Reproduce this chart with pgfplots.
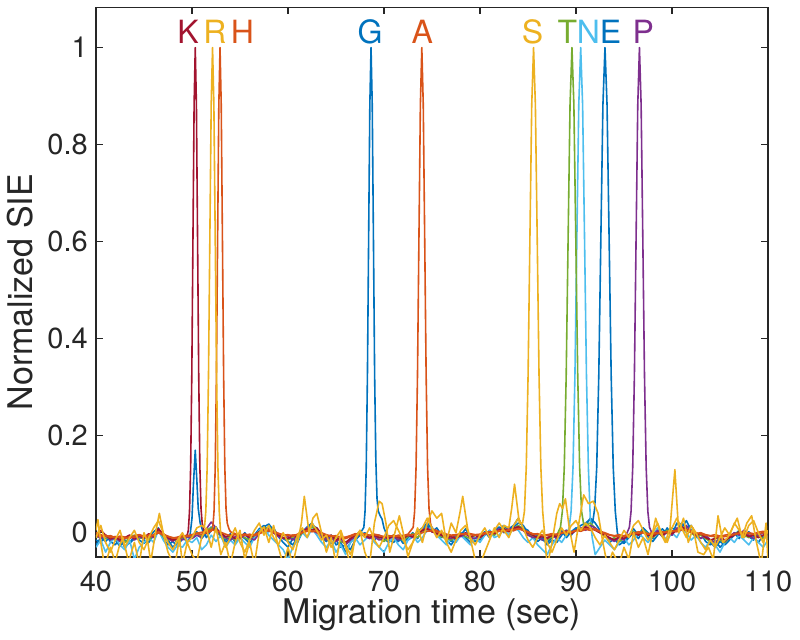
\documentclass[border=0pt]{standalone}
\usepackage{fontspec}
\setmainfont{TeX Gyre Heros}
\usepackage{pgfplots}
\pgfplotsset{compat=1.18}
\definecolor{mblue}{rgb}{0,0.447,0.741}
\definecolor{morange}{rgb}{0.85,0.325,0.098}
\definecolor{myellow}{rgb}{0.929,0.694,0.125}
\definecolor{mpurple}{rgb}{0.494,0.184,0.556}
\definecolor{mgreen}{rgb}{0.466,0.674,0.188}
\definecolor{mcyan}{rgb}{0.301,0.745,0.933}
\definecolor{mdred}{rgb}{0.635,0.078,0.184}
\definecolor{tgray}{rgb}{0.15,0.15,0.15}
\begin{document}
\begin{tikzpicture}
\useasboundingbox (-48pt,-41pt) rectangle (352pt,278.5pt);
\begin{axis}[
  at={(0,0)}, anchor=south west,
  scale only axis, width=336pt, height=274.85pt,
  xmin=40, xmax=110, ymin=-0.05, ymax=1.083,
  xtick={40,50,60,70,80,90,100,110},
  xticklabels={40,50,60,70,80,90,100,110},
  ytick={0,0.2,0.4,0.6,0.8,1},
  yticklabels={0,0.2,0.4,0.6,0.8,1},
  tick align=inside, major tick length=3.4pt,
  axis line style={draw=tgray, line width=0.7pt},
  every tick/.style={draw=tgray, line width=0.6pt},
  /pgf/number format/assume math mode=true,
  ticklabel style={font=\fontsize{14.5}{17}\selectfont, text=tgray},
  xticklabel style={anchor=base, yshift=-17pt},
  yticklabel style={xshift=-0.6pt},
  every axis plot/.append style={line width=0.8pt, line join=round},
  clip=true,
]
% G (blue)
\addplot[mblue] coordinates {
(40,-0.015)(40.5,-0.02)(41,-0.005)(41.5,-0.018)(42,-0.025)(42.5,-0.012)(43,-0.03)(43.5,-0.02)(44,-0.008)(44.5,-0.015)
(45,-0.022)(45.5,-0.01)(46,0.002)(46.5,0.01)(47,-0.012)(47.5,-0.025)(48,-0.018)(48.5,-0.028)(49,-0.012)(49.5,-0.01)
(49.8,-0.005)(50,0.03)(50.15,0.1)(50.34,0.17)(50.5,0.11)(50.65,0.05)(50.85,0.02)(51.1,0.005)
(51.5,-0.01)(52,0.005)(52.5,0.012)(53,-0.005)(53.5,-0.015)(54,-0.002)(54.5,-0.02)(55,-0.012)(55.5,0)(56,-0.015)
(56.5,-0.005)(57,0.008)(57.5,0.015)(58,0.002)(58.5,0.01)(59,-0.008)(59.5,-0.02)(60,-0.03)(60.5,-0.012)(61,-0.02)
(61.5,0.002)(62,0.012)(62.5,0.02)(63,0.005)(63.5,-0.01)(64,-0.018)(64.5,-0.005)(65,-0.025)(65.5,-0.02)(66,-0.04)
(66.5,-0.02)(67,-0.01)(67.5,-0.002)
(67.9,0.011)(68.025,0.044)(68.15,0.135)(68.275,0.325)(68.4,0.607)(68.525,0.882)(68.65,1)(68.775,0.882)(68.9,0.607)
(69.025,0.325)(69.15,0.15)(69.275,0.07)(69.4,0.045)(69.6,0.035)(69.8,0.028)(70,0.01)
(70.5,-0.015)(71,-0.02)(71.5,-0.008)(72,-0.022)(72.5,-0.01)(73,0)(73.5,-0.012)(74,0.005)(74.5,0.015)(75,0.002)
(75.5,0.01)(76,-0.005)(76.5,-0.015)(77,-0.025)(77.5,-0.01)(78,-0.005)(78.5,0.008)(79,-0.01)(79.5,-0.018)(80,-0.008)
(80.5,0.002)(81,-0.01)(81.5,0.005)(82,0.012)(82.5,0)(83,0.008)(83.5,0.015)(84,0.03)(84.5,0.01)(85,0.005)
(85.5,-0.01)(86,-0.005)(86.5,-0.015)(87,-0.02)(87.5,-0.01)(88,-0.005)(88.5,0.005)(89,-0.01)(89.5,0.002)(90,0.01)
(90.5,0.005)(91,0.015)(91.5,0.03)(92,0.02)(92.5,0.005)(93,-0.005)(93.5,-0.02)(94,-0.012)(94.5,-0.025)(95,-0.018)
(95.5,-0.005)(96,0.008)(96.5,-0.005)(97,0.01)(97.5,0)(98,-0.012)(98.5,0.005)(99,-0.008)(99.5,0.01)(100,-0.005)
(100.5,0.02)(101,0.01)(101.5,0.025)(102,0.005)(102.5,-0.01)(103,0)(103.5,-0.018)(104,-0.025)(104.5,-0.015)(105,-0.03)
(105.5,-0.02)(106,-0.01)(106.5,0)(107,-0.012)(107.5,0.005)(108,-0.008)(108.5,-0.015)(109,0)(109.5,-0.01)(110,-0.005)
};
% E (blue)
\addplot[mblue] coordinates {
(40,-0.025)(40.5,-0.01)(41,-0.018)(41.5,-0.008)(42,-0.015)(42.5,-0.028)(43,-0.015)(43.5,-0.022)(44,-0.012)(44.5,-0.005)
(45,-0.015)(45.5,-0.02)(46,-0.005)(46.5,0.005)(47,-0.01)(47.5,-0.015)(48,-0.03)(48.5,-0.02)(49,-0.01)(49.5,-0.018)
(50,-0.005)(50.5,0.002)(51,-0.012)(51.5,0)(52,0.012)(52.5,0.005)(53,-0.008)(53.5,-0.02)(54,-0.01)(54.5,-0.015)
(55,-0.005)(55.5,-0.012)(56,-0.022)(56.5,-0.008)(57,0.002)(57.5,0.012)(58,0.018)(58.5,0.005)(59,-0.005)(59.5,-0.012)
(60,-0.018)(60.5,-0.025)(61,-0.01)(61.5,0.005)(62,0.008)(62.5,0.015)(63,0.01)(63.5,-0.005)(64,-0.012)(64.5,-0.022)
(65,-0.015)(65.5,-0.03)(66,-0.025)(66.5,-0.035)(67,-0.015)(67.5,-0.005)(68,0)(68.5,-0.008)(69,-0.015)(69.5,-0.005)
(70,-0.012)(70.5,-0.02)(71,-0.01)(71.5,-0.018)(72,-0.005)(72.5,-0.015)(73,-0.008)(73.5,0.002)(74,0.01)(74.5,0.02)
(75,0.008)(75.5,0)(76,-0.01)(76.5,-0.005)(77,-0.018)(77.5,-0.012)(78,0)(78.5,-0.01)(79,-0.02)(79.5,-0.01)
(80,-0.015)(80.5,-0.005)(81,0.005)(81.5,-0.005)(82,0.008)(82.5,0.015)(83,0.005)(83.5,0.012)(84,0.02)(84.5,0.015)
(85,0)(85.5,-0.008)(86,-0.018)(86.5,-0.01)(87,-0.025)(87.5,-0.015)(88,-0.02)(88.5,-0.005)(89,0.005)(89.5,-0.005)
(90,0.008)(90.5,0.015)(91,0.02)(91.5,0.028)
(91.73,0.02)(91.945,0.05)(92.16,0.135)(92.375,0.325)(92.59,0.607)(92.805,0.882)(93.02,1)(93.235,0.882)(93.45,0.607)
(93.665,0.325)(93.88,0.135)(94.095,0.044)(94.31,0)
(94.5,-0.012)(95,-0.022)(95.5,-0.01)(96,0)(96.5,-0.012)(97,0.005)(97.5,-0.008)(98,-0.018)(98.5,-0.005)(99,0.008)
(99.5,-0.002)(100,0.01)(100.5,0.005)(101,0.02)(101.5,0.01)(102,0.015)(102.5,-0.005)(103,-0.012)(103.5,-0.005)(104,-0.02)
(104.5,-0.03)(105,-0.018)(105.5,-0.025)(106,-0.015)(106.5,-0.005)(107,0.005)(107.5,-0.01)(108,0.002)(108.5,-0.008)(109,-0.02)
(109.5,-0.005)(110,-0.012)
};
% N (light blue)
\addplot[mcyan] coordinates {
(40,-0.03)(40.5,-0.015)(41,-0.04)(41.5,-0.02)(42,-0.01)(42.5,-0.025)(43,-0.035)(43.5,-0.015)(44,-0.055)(44.5,-0.03)
(45,-0.02)(45.5,-0.01)(46,-0.02)(46.5,0.005)(47,-0.015)(47.5,-0.03)(48,-0.04)(48.5,-0.025)(49,-0.03)(49.5,-0.015)
(50,-0.02)(50.5,-0.01)(51,-0.035)(51.5,-0.025)(52,-0.005)(52.5,-0.018)(53,-0.005)(53.5,-0.03)(54,-0.015)(54.5,-0.025)
(55,-0.01)(55.5,-0.02)(56,-0.03)(56.5,-0.01)(57,0.005)(57.5,0.01)(58,-0.005)(58.5,-0.015)(59,-0.025)(59.5,-0.035)
(60,-0.055)(60.5,-0.03)(61,-0.015)(61.5,0)(62,-0.01)(62.5,0.008)(63,-0.005)(63.5,-0.02)(64,-0.03)(64.5,-0.015)
(65,-0.04)(65.5,-0.025)(66,-0.045)(66.5,-0.02)(67,-0.01)(67.5,-0.025)(68,-0.015)(68.5,-0.005)(69,-0.02)(69.5,-0.03)
(70,-0.04)(70.5,-0.02)(71,-0.01)(71.5,-0.025)(72,-0.035)(72.5,-0.015)(73,-0.005)(73.5,-0.02)(74,-0.01)(74.5,0.005)
(75,0.012)(75.5,-0.005)(76,-0.015)(76.5,-0.025)(77,-0.01)(77.5,-0.02)(78,-0.005)(78.5,-0.015)(79,-0.025)(79.5,-0.01)
(80,-0.02)(80.5,-0.005)(81,0.005)(81.5,-0.01)(82,-0.005)(82.5,0.008)(83,-0.005)(83.5,0.01)(84,0.005)(84.5,-0.01)
(85,-0.02)(85.5,-0.01)(86,-0.025)(86.5,-0.035)(87,-0.045)(87.5,-0.025)(88,-0.01)(88.5,-0.02)(89,-0.005)
(89.29,0.011)(89.49,0.044)(89.69,0.135)(89.89,0.325)(90.09,0.607)(90.29,0.882)(90.49,1)(90.69,0.882)(90.89,0.607)
(91.09,0.325)(91.29,0.135)(91.49,0.03)(91.69,-0.01)
(92,-0.045)(92.5,-0.03)(93,-0.015)(93.5,-0.025)(94,-0.035)(94.5,-0.02)(95,-0.01)(95.5,-0.025)(96,-0.015)(96.5,0)
(97,-0.01)(97.5,-0.02)(98,-0.005)(98.5,0.01)(99,-0.005)(99.5,-0.015)(100,0)(100.5,-0.01)(101,0.01)(101.5,0)
(102,-0.015)(102.5,-0.005)(103,-0.02)(103.5,-0.03)(104,-0.015)(104.5,-0.025)(105,-0.04)(105.5,-0.02)(106,-0.01)(106.5,-0.02)
(107,-0.005)(107.5,-0.015)(108,-0.025)(108.5,-0.01)(109,-0.02)(109.5,-0.03)(110,-0.015)
};
% T (green)
\addplot[mgreen] coordinates {
(40,-0.01)(40.5,-0.005)(41,-0.012)(41.5,-0.008)(42,-0.015)(42.5,-0.01)(43,-0.02)(43.5,-0.01)(44,-0.005)(44.5,-0.012)
(45,-0.008)(45.5,-0.015)(46,-0.005)(46.5,0.005)(47,-0.008)(47.5,-0.015)(48,-0.012)(48.5,-0.02)(49,-0.01)(49.5,-0.005)
(50,-0.01)(50.5,0)(51,-0.008)(51.5,0.005)(52,0.01)(52.5,0.002)(53,-0.005)(53.5,-0.012)(54,-0.008)(54.5,-0.015)
(55,-0.005)(55.5,-0.01)(56,-0.015)(56.5,-0.005)(57,0.002)(57.5,0.008)(58,0.012)(58.5,0.002)(59,-0.005)(59.5,-0.01)
(60,-0.015)(60.5,-0.008)(61,-0.012)(61.5,0)(62,0.005)(62.5,0.012)(63,0.005)(63.5,-0.005)(64,-0.01)(64.5,-0.015)
(65,-0.008)(65.5,-0.018)(66,-0.022)(66.5,-0.012)(67,-0.005)(67.5,0.002)(68,-0.005)(68.5,-0.01)(69,-0.005)(69.5,-0.012)
(70,-0.018)(70.5,-0.01)(71,-0.005)(71.5,-0.012)(72,-0.015)(72.5,-0.008)(73,-0.002)(73.5,-0.01)(74,0.002)(74.5,0.008)
(75,0.005)(75.5,-0.002)(76,-0.008)(76.5,-0.012)(77,-0.015)(77.5,-0.008)(78,-0.002)(78.5,-0.008)(79,-0.012)(79.5,-0.005)
(80,-0.01)(80.5,-0.002)(81,0.002)(81.5,-0.005)(82,0.005)(82.5,0.01)(83,0.002)(83.5,0.008)(84,0.015)(84.5,0.008)
(85,-0.002)(85.5,-0.008)(86,-0.012)(86.5,-0.005)(87,-0.015)(87.5,-0.008)(88,-0.005)
(88.38,0.011)(88.58,0.044)(88.78,0.135)(88.98,0.325)(89.18,0.607)(89.38,0.882)(89.58,1)(89.78,0.882)(89.98,0.607)
(90.18,0.325)(90.38,0.135)(90.58,0.044)(90.78,0.02)
(91,0.015)(91.5,0.02)(92,0.01)(92.5,0)(93,-0.008)(93.5,-0.015)(94,-0.01)(94.5,-0.018)(95,-0.012)(95.5,-0.005)
(96,0.002)(96.5,-0.005)(97,0.005)(97.5,-0.002)(98,-0.01)(98.5,0)(99,-0.005)(99.5,0.005)(100,-0.002)(100.5,0.008)
(101,0.012)(101.5,0.005)(102,0)(102.5,-0.008)(103,-0.005)(103.5,-0.012)(104,-0.018)(104.5,-0.01)(105,-0.015)(105.5,-0.02)
(106,-0.01)(106.5,-0.002)(107,0.002)(107.5,-0.005)(108,-0.01)(108.5,-0.002)(109,-0.008)(109.5,-0.012)(110,-0.005)
};
% P (purple)
\addplot[mpurple] coordinates {
(40,-0.005)(40.5,-0.012)(41,-0.005)(41.5,-0.015)(42,-0.01)(42.5,-0.018)(43,-0.012)(43.5,-0.005)(44,-0.015)(44.5,-0.008)
(45,-0.012)(45.5,-0.005)(46,-0.01)(46.5,0.008)(47,-0.005)(47.5,-0.012)(48,-0.018)(48.5,-0.01)(49,-0.015)(49.5,-0.008)
(50,-0.012)(50.5,-0.005)(51,-0.01)(51.5,0.008)(52,0.022)(52.5,0.01)(53,-0.005)(53.5,-0.01)(54,-0.015)(54.5,-0.008)
(55,-0.012)(55.5,-0.005)(56,-0.01)(56.5,-0.015)(57,-0.002)(57.5,0.005)(58,0.008)(58.5,0)(59,-0.008)(59.5,-0.012)
(60,-0.008)(60.5,-0.015)(61,-0.005)(61.5,0.002)(62,0.01)(62.5,0.005)(63,0)(63.5,-0.008)(64,-0.015)(64.5,-0.01)
(65,-0.018)(65.5,-0.012)(66,-0.025)(66.5,-0.015)(67,-0.008)(67.5,-0.002)(68,-0.008)(68.5,-0.012)(69,-0.008)(69.5,-0.015)
(70,-0.01)(70.5,-0.012)(71,-0.008)(71.5,-0.015)(72,-0.01)(72.5,-0.005)(73,-0.01)(73.5,-0.002)(74,0.005)(74.5,0.01)
(75,0.002)(75.5,0.005)(76,-0.005)(76.5,-0.01)(77,-0.012)(77.5,-0.005)(78,-0.008)(78.5,-0.002)(79,-0.01)(79.5,-0.012)
(80,-0.005)(80.5,0)(81,-0.005)(81.5,0.002)(82,0.008)(82.5,0.002)(83,0.01)(83.5,0.005)(84,0.012)(84.5,0.005)
(85,-0.005)(85.5,-0.01)(86,-0.008)(86.5,-0.015)(87,-0.01)(87.5,-0.005)(88,-0.012)(88.5,0)(89,0.005)(89.5,-0.002)
(90,0.005)(90.5,0.01)(91,0.005)(91.5,0.015)(92,0.01)(92.5,0.002)(93,-0.005)(93.5,-0.012)(94,-0.018)(94.5,-0.01)
(95,-0.015)
(95.56,0.011)(95.735,0.044)(95.91,0.135)(96.085,0.325)(96.26,0.607)(96.435,0.882)(96.61,1)(96.785,0.882)(96.96,0.607)
(97.135,0.325)(97.31,0.135)(97.485,0.044)(97.66,0.011)
(98,-0.005)(98.5,0.005)(99,-0.008)(99.5,0.002)(100,-0.005)(100.5,0.01)(101,0.005)(101.5,0.015)(102,0.002)(102.5,-0.005)
(103,-0.012)(103.5,-0.005)(104,-0.015)(104.5,-0.02)(105,-0.012)(105.5,-0.018)(106,-0.008)(106.5,0)(107,-0.005)(107.5,0.005)
(108,-0.005)(108.5,-0.012)(109,-0.005)(109.5,0)(110,-0.008)
};
% K (dark red)
\addplot[mdred] coordinates {
(40,-0.008)(40.5,0.005)(41,-0.005)(41.5,-0.012)(42,-0.008)(42.5,-0.015)(43,-0.01)(43.5,-0.005)(44,-0.012)(44.5,-0.005)
(45,-0.01)(45.5,-0.002)(46,-0.008)(46.5,0.008)(47,-0.002)(47.5,-0.01)(48,-0.015)(48.5,-0.012)(49,-0.008)(49.5,-0.005)
(49.62,0.005)(49.74,0.044)(49.86,0.135)(49.98,0.325)(50.1,0.607)(50.22,0.882)(50.34,1)(50.46,0.882)(50.58,0.607)
(50.7,0.325)(50.82,0.135)(50.94,0.05)(51.06,0.02)(51.25,0.005)
(51.5,-0.002)(52,0.005)(52.5,0.008)(53,0)(53.5,-0.008)(54,-0.005)(54.5,-0.012)(55,-0.008)(55.5,-0.002)(56,-0.01)
(56.5,-0.005)(57,0.002)(57.5,0.008)(58,0.005)(58.5,0)(59,-0.005)(59.5,-0.01)(60,-0.012)(60.5,-0.005)(61,-0.008)
(61.5,0.002)(62,0.008)(62.5,0.005)(63,0.01)(63.5,-0.002)(64,-0.01)(64.5,-0.005)(65,-0.015)(65.5,-0.01)(66,-0.02)
(66.5,-0.012)(67,-0.005)(67.5,0)(68,-0.005)(68.5,-0.01)(69,-0.005)(69.5,-0.01)(70,-0.008)(70.5,-0.012)(71,-0.005)
(71.5,-0.01)(72,-0.012)(72.5,-0.005)(73,-0.008)(73.5,0)(74,0.005)(74.5,0.008)(75,0.002)(75.5,-0.002)(76,-0.005)
(76.5,-0.01)(77,-0.008)(77.5,-0.012)(78,-0.005)(78.5,0)(79,-0.008)(79.5,-0.005)(80,-0.01)(80.5,-0.002)(81,0.002)
(81.5,-0.002)(82,0.005)(82.5,0.008)(83,0.002)(83.5,0.01)(84,0.012)(84.5,0.005)(85,0)(85.5,-0.005)(86,-0.01)
(86.5,-0.008)(87,-0.012)(87.5,-0.005)(88,-0.008)(88.5,0)(89,0.002)(89.5,-0.002)(90,0.005)(90.5,0.008)(91,0.012)
(91.5,0.01)(92,0.005)(92.5,0)(93,-0.005)(93.5,-0.01)(94,-0.015)(94.5,-0.008)(95,-0.012)(95.5,-0.005)(96,0)
(96.5,-0.005)(97,0.002)(97.5,-0.005)(98,-0.008)(98.5,0)(99,-0.005)(99.5,0.002)(100,-0.002)(100.5,0.005)(101,0.012)
(101.5,0.008)(102,0.002)(102.5,-0.005)(103,-0.002)(103.5,-0.01)(104,-0.015)(104.5,-0.012)(105,-0.008)(105.5,-0.015)(106,-0.01)
(106.5,-0.005)(107,0.002)(107.5,-0.002)(108,-0.008)(108.5,-0.005)(109,-0.01)(109.5,-0.005)(110,0)
};
% H (orange)
\addplot[morange] coordinates {
(40,-0.005)(40.5,-0.008)(41,-0.005)(41.5,-0.01)(42,-0.008)(42.5,-0.01)(43,-0.012)(43.5,-0.008)(44,-0.01)(44.5,-0.005)
(45,-0.008)(45.5,-0.005)(46,-0.006)(46.5,0)(47,-0.005)(47.5,-0.008)(48,-0.01)(48.5,-0.012)(49,-0.008)(49.5,-0.006)
(50,-0.004)(50.5,-0.002)(51,-0.003)(51.5,0)(52,0.003)
(52.17,0.011)(52.295,0.044)(52.42,0.135)(52.545,0.325)(52.67,0.607)(52.795,0.882)(52.92,1)(53.045,0.882)(53.17,0.607)
(53.295,0.325)(53.42,0.135)(53.545,0.05)(53.67,0.02)(53.85,0.008)
(54,0.002)(54.5,-0.002)(55,-0.005)(55.5,-0.003)(56,-0.006)(56.5,-0.004)(57,0)(57.5,0.003)(58,0.004)(58.5,0.001)
(59,-0.002)(59.5,-0.004)(60,-0.006)(60.5,-0.005)(61,-0.004)(61.5,0)(62,0.003)(62.5,0.004)(63,0.002)(63.5,-0.002)
(64,-0.005)(64.5,-0.006)(65,-0.008)(65.5,-0.009)(66,-0.012)(66.5,-0.008)(67,-0.004)(67.5,-0.002)(68,-0.003)(68.5,-0.005)
(69,-0.004)(69.5,-0.006)(70,-0.008)(70.5,-0.007)(71,-0.006)(71.5,-0.008)(72,-0.007)(72.5,-0.005)(73,-0.004)(73.5,-0.002)
(74,0)(74.5,0.003)(75,0.004)(75.5,0.002)(76,-0.001)(76.5,-0.004)(77,-0.006)(77.5,-0.005)(78,-0.003)(78.5,-0.002)
(79,-0.004)(79.5,-0.005)(80,-0.004)(80.5,-0.002)(81,0)(81.5,0.001)(82,0.003)(82.5,0.004)(83,0.005)(83.5,0.006)
(84,0.008)(84.5,0.005)(85,0.002)(85.5,-0.002)(86,-0.004)(86.5,-0.005)(87,-0.006)(87.5,-0.004)(88,-0.003)(88.5,-0.001)
(89,0.001)(89.5,0.002)(90,0.004)(90.5,0.006)(91,0.008)(91.5,0.009)(92,0.006)(92.5,0.002)(93,-0.002)(93.5,-0.005)
(94,-0.007)(94.5,-0.008)(95,-0.006)(95.5,-0.004)(96,-0.002)(96.5,-0.001)(97,0)(97.5,-0.002)(98,-0.003)(98.5,-0.001)
(99,0)(99.5,0.002)(100,0.003)(100.5,0.005)(101,0.007)(101.5,0.006)(102,0.003)(102.5,0)(103,-0.003)(103.5,-0.005)
(104,-0.007)(104.5,-0.008)(105,-0.009)(105.5,-0.008)(106,-0.006)(106.5,-0.003)(107,-0.001)(107.5,0)(108,-0.002)(108.5,-0.003)
(109,-0.002)(109.5,0)(110,0.002)
};
% A (orange)
\addplot[morange] coordinates {
(40,0)(40.5,-0.004)(41,-0.008)(41.5,-0.006)(42,-0.01)(42.5,-0.007)(43,-0.009)(43.5,-0.012)(44,-0.006)(44.5,-0.004)
(45,-0.007)(45.5,-0.01)(46,-0.004)(46.5,0.002)(47,-0.003)(47.5,-0.007)(48,-0.011)(48.5,-0.009)(49,-0.006)(49.5,-0.008)
(50,-0.005)(50.5,-0.001)(51,0.001)(51.5,0.003)(52,0.006)(52.5,0.004)(53,0.001)(53.5,-0.003)(54,-0.006)(54.5,-0.004)
(55,-0.007)(55.5,-0.005)(56,-0.003)(56.5,-0.006)(57,-0.002)(57.5,0.002)(58,0.006)(58.5,0.003)(59,-0.001)(59.5,-0.005)
(60,-0.004)(60.5,-0.007)(61,-0.003)(61.5,0.001)(62,0.005)(62.5,0.002)(63,0.004)(63.5,0)(64,-0.004)(64.5,-0.008)
(65,-0.006)(65.5,-0.01)(66,-0.009)(66.5,-0.006)(67,-0.002)(67.5,-0.004)(68,-0.002)(68.5,-0.006)(69,-0.003)(69.5,-0.005)
(70,-0.009)(70.5,-0.006)(71,-0.008)(71.5,-0.005)(72,-0.006)(72.5,-0.003)
(73.04,0.011)(73.19,0.044)(73.34,0.135)(73.49,0.325)(73.64,0.607)(73.79,0.882)(73.94,1)(74.09,0.882)(74.24,0.607)
(74.39,0.325)(74.54,0.135)(74.69,0.05)(74.84,0.02)
(75,0.008)(75.5,0.004)(76,0)(76.5,-0.003)(77,-0.005)(77.5,-0.004)(78,-0.002)(78.5,-0.004)(79,-0.002)(79.5,-0.004)
(80,-0.003)(80.5,0)(81,0.002)(81.5,0.001)(82,0.004)(82.5,0.002)(83,0.006)(83.5,0.004)(84,0.009)(84.5,0.006)
(85,0.001)(85.5,-0.003)(86,-0.002)(86.5,-0.006)(87,-0.004)(87.5,-0.002)(88,-0.004)(88.5,0)(89,0.003)(89.5,0.001)
(90,0.005)(90.5,0.003)(91,0.007)(91.5,0.005)(92,0.008)(92.5,0.003)(93,0)(93.5,-0.004)(94,-0.006)(94.5,-0.004)
(95,-0.008)(95.5,-0.005)(96,-0.001)(96.5,0.002)(97,0)(97.5,-0.003)(98,0.001)(98.5,-0.002)(99,0.002)(99.5,0)
(100,0.004)(100.5,0.002)(101,0.006)(101.5,0.004)(102,0.001)(102.5,-0.002)(103,0)(103.5,-0.004)(104,-0.006)(104.5,-0.004)
(105,-0.007)(105.5,-0.005)(106,-0.003)(106.5,-0.004)(107,-0.001)(107.5,0.002)(108,0)(108.5,-0.002)(109,0.001)(109.5,0.003)
(110,0)
};
% R (yellow)
\addplot[myellow] coordinates {
(40,-0.01)(40.5,0.015)(41,-0.02)(41.5,-0.04)(42,-0.015)(42.5,0.005)(43,-0.03)(43.5,-0.01)(44,0.005)(44.5,-0.02)
(45,-0.035)(45.5,-0.01)(46,0.01)(46.5,0.025)(47,0)(47.5,-0.02)(48,-0.035)(48.5,-0.015)(49,0)(49.5,-0.02)
(50,-0.01)(50.5,0.01)(51,0.015)
(51.3,0.011)(51.44,0.044)(51.58,0.135)(51.72,0.325)(51.86,0.607)(52,0.882)(52.14,1)(52.28,0.882)(52.42,0.607)
(52.56,0.325)(52.7,0.135)(52.84,0.044)(52.98,0)
(53.5,-0.03)(54,-0.01)(54.5,0.01)(55,-0.02)(55.5,-0.04)(56,-0.015)(56.5,0.005)(57,0.02)(57.5,-0.005)(58,0.015)
(58.5,-0.01)(59,-0.025)(59.5,0)(60,-0.02)(60.5,-0.035)(61,-0.005)(61.5,0.01)(62,-0.01)(62.5,0.02)(63,0.005)
(63.5,-0.015)(64,-0.005)(64.5,-0.03)(65,-0.01)(65.5,0.005)(66,-0.025)(66.5,-0.045)(67,-0.015)(67.5,0.005)(68,-0.01)
(68.5,0.01)(69,-0.015)(69.5,-0.03)(70,-0.01)(70.5,0.015)(71,0.025)(71.5,0.005)(72,-0.015)(72.5,-0.035)(73,-0.02)
(73.5,0)(74,0.01)(74.5,0.03)(75,0.01)(75.5,-0.01)(76,0.005)(76.5,-0.02)(77,-0.04)(77.5,-0.015)(78,0.005)
(78.5,0.015)(79,-0.01)(79.5,-0.025)(80,-0.005)(80.5,0.01)(81,-0.01)(81.5,0.005)(82,0.02)(82.5,0.005)(83,-0.01)
(83.5,0.015)(84,0.03)(84.5,0.01)(85,-0.015)(85.5,-0.03)(86,-0.01)(86.5,0.005)(87,-0.02)(87.5,-0.04)(88,-0.015)
(88.5,0.01)(89,-0.005)(89.5,0.015)(90,0.025)(90.5,0.005)(91,0.02)(91.5,0.01)(92,-0.01)(92.5,-0.025)(93,-0.005)
(93.5,-0.02)(94,-0.035)(94.5,-0.015)(95,0.005)(95.5,-0.01)(96,0.015)(96.5,0.025)(97,0.005)(97.5,-0.015)(98,0)
(98.5,0.02)(99,-0.005)(99.5,-0.02)(100,0.01)(100.5,0.03)(101,0.01)(101.5,-0.01)(102,0.015)(102.5,0)(103,-0.02)
(103.5,-0.035)(104,-0.015)(104.5,-0.03)(105,-0.01)(105.5,0.01)(106,-0.005)(106.5,0.02)(107,0.005)(107.5,-0.01)(108,0.015)
(108.5,0.025)(109,0)(109.5,-0.02)(110,0.005)
};
% S (yellow)
\addplot[myellow] coordinates {
(40,0.005)(40.2,0.027)(40.5,-0.02)(40.9,-0.07)(41.5,-0.03)(42,-0.06)(42.4,-0.03)(42.8,-0.01)(43.4,-0.06)(44,-0.02)
(44.5,-0.065)(45,0)(45.4,-0.02)(45.7,-0.06)(46.2,0.0)(46.6,0.04)(47.1,-0.01)(47.5,-0.04)(48.2,-0.07)(48.7,-0.01)
(49,-0.065)(49.5,-0.02)(50,-0.045)(50.5,-0.06)(51,-0.01)(51.5,0.01)(52,-0.03)(52.5,0.012)(53,-0.045)(53.5,-0.02)
(54,-0.065)(54.5,-0.02)(55,0.005)(55.5,-0.055)(56,-0.02)(56.5,-0.065)(57,0)(57.5,0.012)(58,-0.02)(58.5,0.015)
(59,-0.03)(59.5,-0.065)(60,-0.03)(60.5,-0.065)(61,-0.02)(61.4,0.02)(61.7,0.075)(62.2,0)(62.6,0.03)(63,0.04)
(63.5,0)(64,-0.04)(64.5,-0.01)(65,-0.065)(65.5,0)(66,-0.03)(66.5,-0.065)(67,-0.01)(67.5,0.005)(68,-0.04)
(68.5,-0.065)(69,0.02)(69.5,0.065)(69.8,0.06)(70.2,0.02)(70.6,-0.04)(71,-0.01)(71.6,0.035)(72,0)(72.5,-0.05)
(73,-0.02)(73.5,0.01)(74,-0.02)(74.5,0.02)(75,0.045)(75.5,0.03)(76,0.04)(76.5,-0.02)(77,0.02)(77.5,0)
(77.9,0.04)(78.2,0.075)(78.7,0.01)(79.2,-0.03)(79.6,-0.065)(80,-0.065)(80.5,-0.04)(81,-0.015)(81.5,0.01)(82,-0.01)
(82.5,0.015)(83,0.01)(83.3,0.05)(83.6,0.1)(84.1,0.02)
(84.44,0.02)(84.63,0.044)(84.82,0.135)(85.01,0.325)(85.2,0.607)(85.39,0.882)(85.58,1)(85.77,0.882)(85.96,0.607)
(86.15,0.325)(86.34,0.135)(86.53,0.044)(86.72,0)
(87,-0.07)(87.5,-0.02)(88,0.04)(88.3,0.06)(88.6,0.05)(88.9,0.07)(89.3,0.01)(89.8,-0.04)(90.3,0.02)(90.8,0.078)
(91.3,0.06)(91.8,0.065)(92.3,0.04)(92.8,-0.02)(93.3,-0.07)(93.8,-0.04)(94.5,-0.065)(95,-0.03)(95.5,-0.055)(96,0)
(96.5,-0.03)(97,-0.01)(97.5,-0.045)(98.3,0.03)(98.8,0)(99.3,-0.02)(99.8,0.01)(100.3,0.13)(100.7,0)(101.2,0.03)
(101.7,-0.02)(102.2,0.01)(102.7,-0.04)(103.3,-0.045)(103.8,-0.03)(104.3,-0.055)(104.8,0.035)(105.3,-0.02)(105.8,-0.01)(106.3,0.01)
(106.8,0.03)(107.3,-0.01)(107.8,0.02)(108.3,0.035)(108.8,-0.02)(109.3,-0.065)(109.8,0.02)(110,-0.06)
};
% peak labels
\node[anchor=base, text=mdred, font=\fontsize{16}{19}\selectfont] at (axis cs:49.6,1.008) {K};
\node[anchor=base, text=myellow, font=\fontsize{16}{19}\selectfont] at (axis cs:52.4,1.008) {R};
\node[anchor=base, text=morange, font=\fontsize{16}{19}\selectfont] at (axis cs:55.25,1.008) {H};
\node[anchor=base, text=mblue, font=\fontsize{16}{19}\selectfont] at (axis cs:68.54,1.008) {G};
\node[anchor=base, text=morange, font=\fontsize{16}{19}\selectfont] at (axis cs:74.0,1.008) {A};
\node[anchor=base, text=myellow, font=\fontsize{16}{19}\selectfont] at (axis cs:85.47,1.008) {S};
\node[anchor=base, text=mgreen, font=\fontsize{16}{19}\selectfont] at (axis cs:89.1,1.008) {T};
\node[anchor=base, text=mcyan, font=\fontsize{16}{19}\selectfont] at (axis cs:91.3,1.008) {N};
\node[anchor=base, text=mblue, font=\fontsize{16}{19}\selectfont] at (axis cs:93.6,1.008) {E};
\node[anchor=base, text=mpurple, font=\fontsize{16}{19}\selectfont] at (axis cs:97.0,1.008) {P};
\end{axis}
\node[anchor=base, text=tgray, font=\fontsize{17}{20}\selectfont] at (168pt,-33pt) {Migration time (sec)};
\node[anchor=base, rotate=90, text=tgray, font=\fontsize{17}{20}\selectfont] at (-31.5pt,132.4pt) {Normalized SIE};
\end{tikzpicture}
\end{document}
